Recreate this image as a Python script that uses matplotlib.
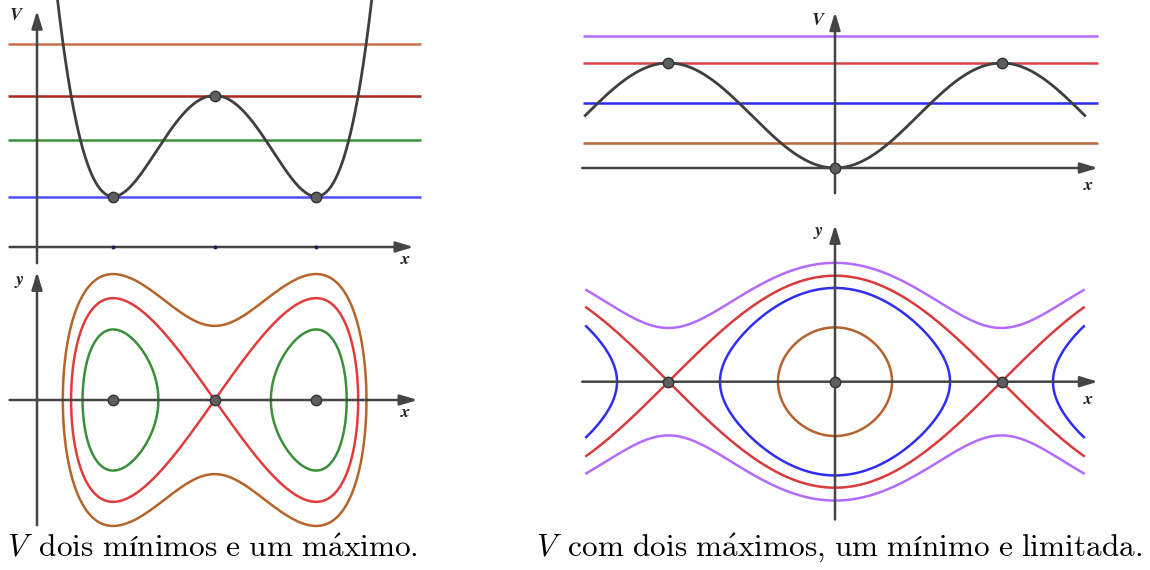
import matplotlib
matplotlib.use("Agg")
import matplotlib.pyplot as plt
import numpy as np

plt.rcParams['mathtext.fontset'] = 'cm'

W, H = 1150, 570

# double well: V(x) = ((x - 1.75)^2 - 1)^2 + 0.5
well_center = 1.75
well_crit = [0.75, 1.75, 2.75]          # minimum, maximum, minimum
well_lines = [2.01, 1.5, 1.06, 0.5]     # energy levels drawn over V
well_line_colors = ['#c8714b', '#a8281c', '#3a913a', '#4d4dff']
well_orbits = [0.98, 1.5, 2.03]         # phase curves (increasing)
well_orbit_colors = ['#3a8f3a', '#e03c3c', '#b5652b']

# pendulum-like: V(x) = 1 - cos(x)
cos_crit = [-np.pi, 0.0, np.pi]          # maximum, minimum, maximum
cos_lines = [2.514, 2.0, 1.238, 0.476]
cos_line_colors = ['#b36bff', '#d64545', '#2a2af0', '#b9683f']
cos_orbits = [0.525, 1.564, 2.0, 2.514]
cos_orbit_colors = ['#b5622e', '#2e2ef5', '#d93b3b', '#b36bff']

captions = [r"$V\ \,\mathrm{dois\ mínimos\ e\ um\ m\acute{a}ximo.}$",
            r"$V\ \,\mathrm{com\ dois\ m\acute{a}ximos{,}\ um\ mínimo\ e\ limitada.}$"]

AXC = '#454545'
DOT = dict(marker='o', ms=7.5, mfc='#5e5e5e', mec='#333333', mew=1.0, ls='none', zorder=5)


def V_well(x):
    return ((x - well_center) ** 2 - 1) ** 2 + 0.5


def V_cos(x):
    return 1 - np.cos(x)


fig = plt.figure(figsize=(W / 100, H / 100), dpi=100)


def panel(x0, x1, y0, y1, ox, oy, sx, sy):
    # pixel box on the figure, data origin at pixel (ox, oy), sx/sy pixels per unit
    ax = fig.add_axes([x0 / W, 1 - y1 / H, (x1 - x0) / W, (y1 - y0) / H])
    ax.set_xlim((x0 - ox) / sx, (x1 - ox) / sx)
    ax.set_ylim((oy - y1) / sy, (oy - y0) / sy)
    ax.axis('off')
    return ax


def arrow(ax, p0, p1):
    ax.annotate('', xy=p1, xytext=p0,
                arrowprops=dict(arrowstyle='-|>,head_length=1.05,head_width=0.32',
                                color=AXC, lw=1.8, shrinkA=0, shrinkB=0),
                annotation_clip=False)


def label(ax, x, y, s):
    ax.text(x, y, r'$\mathbfit{%s}$' % s, fontsize=13, color='#222222',
            ha='center', va='center')


# ---- double well, potential ----
ax = panel(0, 425, 0, 268, 37, 247, 101.5, 101)
for e, c in zip(well_lines, well_line_colors):
    ax.hlines(e, -0.29, 3.78, color=c, lw=1.8, zorder=2)
x = np.linspace(-0.4, 3.9, 800)
ax.plot(x, V_well(x), color='#3f3f3f', lw=2.0, zorder=3)
arrow(ax, (-0.27, 0), (3.71, 0))
arrow(ax, (0, -0.16), (0, 2.34))
ax.plot(well_crit, [0, 0, 0], 'o', ms=1.8, color='#1c1c5c', zorder=4)
ax.plot(well_crit, V_well(np.array(well_crit)), **DOT)
label(ax, -0.2, 2.3, 'V')
label(ax, 3.63, -0.12, 'x')

# ---- double well, phase plane ----
ax = panel(0, 425, 268, 530, 37, 400, 101.5, 72)
gx = np.linspace(-0.2, 3.7, 900)
gy = np.linspace(-2.0, 2.0, 700)
X, Y = np.meshgrid(gx, gy)
ax.contour(X, Y, Y ** 2 / 2 + V_well(X), levels=well_orbits,
           colors=well_orbit_colors, linewidths=1.8, zorder=3)
arrow(ax, (-0.27, 0), (3.75, 0))
arrow(ax, (0, -1.74), (0, 1.78))
ax.plot(well_crit, [0, 0, 0], **DOT)
label(ax, -0.17, 1.65, 'y')
label(ax, 3.63, -0.17, 'x')

# ---- bounded potential ----
ax = panel(570, 1150, 0, 200, 835, 168, 53, 52.5)
for e, c in zip(cos_lines, cos_line_colors):
    ax.hlines(e, -4.755, 4.96, color=c, lw=1.8, zorder=2)
x = np.linspace(-1.5 * np.pi, 1.5 * np.pi, 800)
ax.plot(x, V_cos(x), color='#3f3f3f', lw=2.0, zorder=3)
arrow(ax, (-4.77, 0), (4.96, 0))
arrow(ax, (0, -0.48), (0, 2.97))
ax.plot(cos_crit, V_cos(np.array(cos_crit)), **DOT)
label(ax, -0.32, 2.82, 'V')
label(ax, 4.79, -0.32, 'x')

# ---- bounded potential, phase plane ----
ax = panel(570, 1150, 210, 530, 835, 381.7, 53, 53)
gx = np.linspace(-1.5 * np.pi, 1.5 * np.pi, 1000)
gy = np.linspace(-3.0, 3.0, 800)
X, Y = np.meshgrid(gx, gy)
ax.contour(X, Y, Y ** 2 / 2 + V_cos(X), levels=cos_orbits,
           colors=cos_orbit_colors, linewidths=1.8, zorder=3)
arrow(ax, (-4.77, 0), (4.96, 0))
arrow(ax, (0, -2.6), (0, 2.96))
ax.plot(cos_crit, [0, 0, 0], **DOT)
label(ax, -0.32, 2.82, 'y')
label(ax, 4.79, -0.32, 'x')

# captions under each pair of plots
fig.text(212 / W, 1 - 548 / H, captions[0], fontsize=22.5, ha='center', va='center')
fig.text(839 / W, 1 - 548 / H, captions[1], fontsize=22.5, ha='center', va='center')

fig.savefig('out.png', dpi=100)
